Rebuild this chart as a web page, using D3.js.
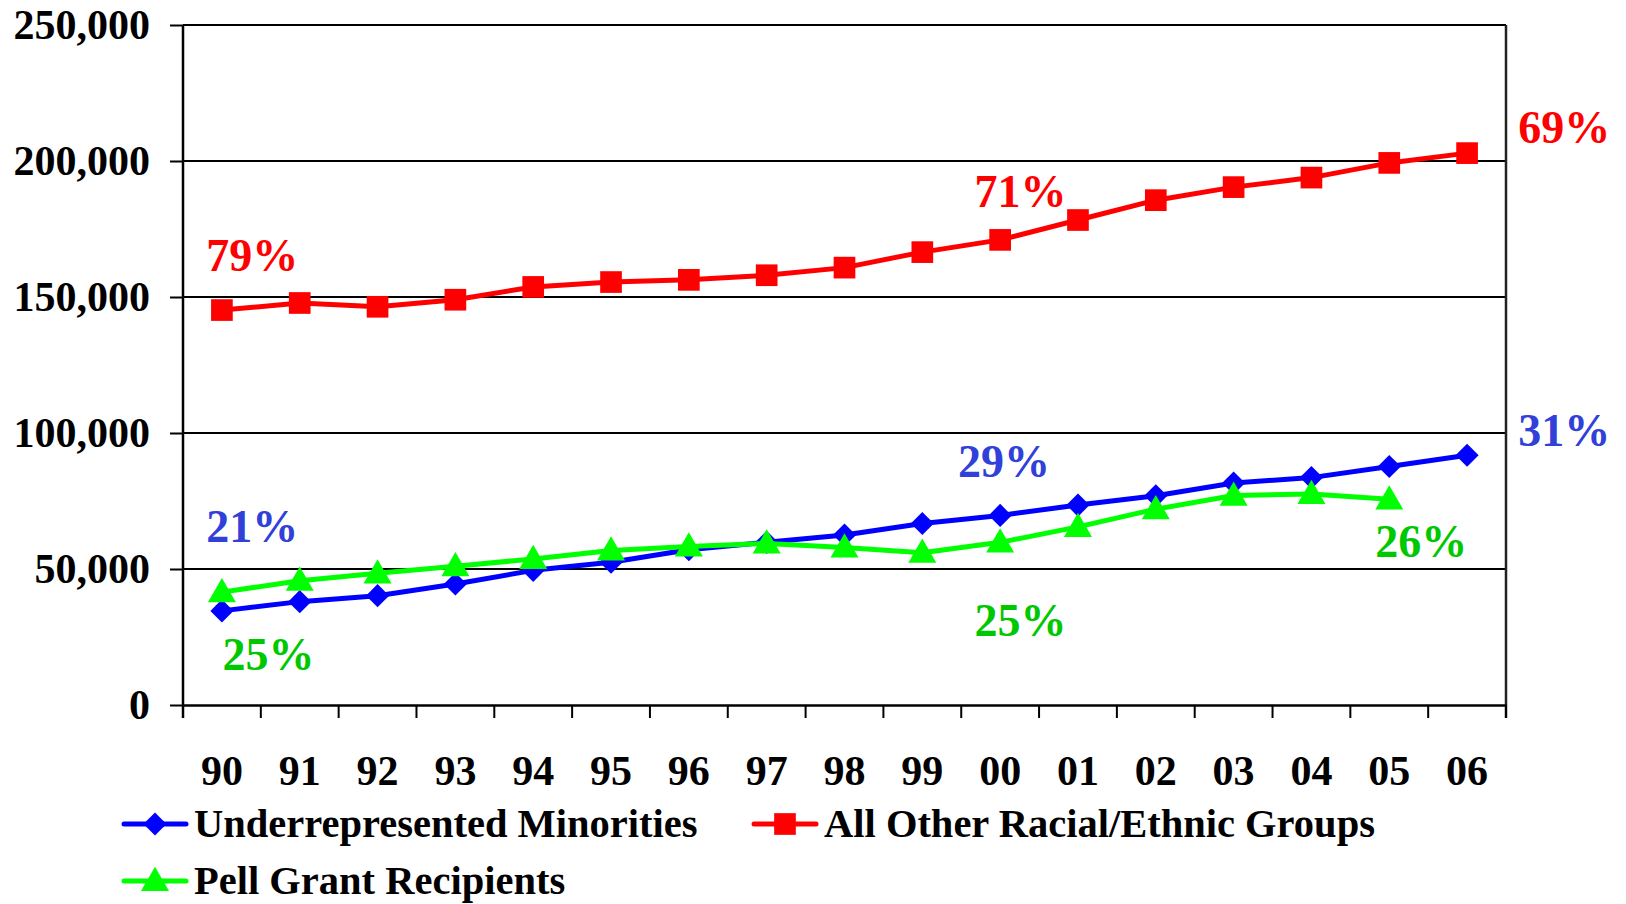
<!DOCTYPE html>
<html>
<head>
<meta charset="utf-8">
<script src="https://cdn.jsdelivr.net/npm/d3@7"></script>
<style>
  html, body { margin: 0; padding: 0; background: #fff; }
  svg { display: block; }
  text { font-family: "Liberation Serif", "Times New Roman", serif; font-weight: bold; }
</style>
</head>
<body>
<svg id="chart" width="1626" height="904"></svg>
<script>
// ---------- DATA ----------
const years = ["90","91","92","93","94","95","96","97","98","99","00","01","02","03","04","05","06"];
const underrepresented = [34.6, 38.0, 40.2, 44.5, 49.5, 52.5, 57.1, 59.8, 62.5, 66.7, 69.7, 73.5, 76.9, 81.6, 83.6, 87.7, 91.8].map(v => v * 1000);
const allOther = [145.2, 147.8, 146.4, 149.0, 153.7, 155.5, 156.3, 158.0, 160.8, 166.5, 171.0, 178.3, 185.6, 190.4, 193.9, 199.3, 202.9].map(v => v * 1000);
const pell = [41.5, 45.7, 48.4, 51.0, 53.7, 56.8, 58.3, 59.4, 57.9, 56.0, 59.8, 65.5, 72.0, 77.0, 77.6, 75.6].map(v => v * 1000);
const yTicks = [0, 50000, 100000, 150000, 200000, 250000];
const seriesNames = ["Underrepresented Minorities", "All Other Racial/Ethnic Groups", "Pell Grant Recipients"];
// share annotations: [text, series, position along years (index), value]
const shareLabels = [
  ["79%", 1, 0.39, 159600],
  ["71%", 1, 10.26, 183100],
  ["69%", 1, 17.25, 206600],
  ["21%", 0, 0.39, 59900],
  ["29%", 0, 10.05, 83800],
  ["31%", 0, 17.25, 95200],
  ["25%", 2, 0.60, 12900],
  ["25%", 2, 10.26, 25400],
  ["26%", 2, 15.41, 54400]
];

// ---------- LAYOUT ----------
const svg = d3.select("#chart");
const L = 183, R = 1506, T = 25, B = 705;
const lineColors = ["#0000FF", "#FF0000", "#00FF00"];
const labelColors = ["#3040D8", "#FF0000", "#00C800"];
const symbols = [d3.symbolDiamond2, d3.symbolSquare, d3.symbolTriangle];
const symSizes = [340, 470, 340];

const x = d3.scaleBand().domain(years).range([L, R]).padding(0);
const xi = d3.scaleLinear().domain([-0.5, years.length - 0.5]).range([L, R]);
const y = d3.scaleLinear().domain([0, 250000]).range([B, T]);
const cx = d => x(d) + x.bandwidth() / 2;

// gridlines
svg.append("g").selectAll("line").data(yTicks.filter(d => d > 0)).join("line")
  .attr("x1", L).attr("x2", R).attr("y1", d => y(d)).attr("y2", d => y(d))
  .attr("stroke", "#000").attr("stroke-width", 2);
// right border
svg.append("line").attr("x1", R).attr("x2", R).attr("y1", T).attr("y2", B + 13)
  .attr("stroke", "#222").attr("stroke-width", 2.5);

// y axis
const yAxis = svg.append("g").attr("transform", `translate(${L},0)`)
  .call(d3.axisLeft(y).tickValues(yTicks).tickFormat(d3.format(",")).tickSize(13).tickPadding(20));
yAxis.select(".domain").attr("stroke-width", 2.5).attr("d", `M0,${T}V${B + 13}`);
yAxis.selectAll(".tick line").attr("stroke-width", 2);
yAxis.selectAll("text").attr("font-size", 42).attr("fill", "#000")
  .style("font-family", '"Liberation Serif", serif').style("font-weight", "bold");

// x axis labels
const xAxis = svg.append("g").attr("transform", `translate(0,${B})`)
  .call(d3.axisBottom(x).tickSize(0).tickPadding(50));
xAxis.select(".domain").attr("stroke-width", 2.5);
xAxis.selectAll("text").attr("font-size", 42).attr("fill", "#000")
  .style("font-family", '"Liberation Serif", serif').style("font-weight", "bold");
// boundary ticks
svg.append("g").selectAll("line").data(d3.range(years.length + 1)).join("line")
  .attr("x1", i => xi(i - 0.5)).attr("x2", i => xi(i - 0.5))
  .attr("y1", B).attr("y2", B + 13)
  .attr("stroke", "#000").attr("stroke-width", 2);

// series
const allSeries = [underrepresented, allOther, pell];
const line = d3.line().x((d, i) => cx(years[i])).y(d => y(d));
allSeries.forEach((vals, s) => {
  svg.append("path").datum(vals).attr("d", line)
    .attr("fill", "none").attr("stroke", lineColors[s]).attr("stroke-width", 5)
    .attr("stroke-linejoin", "round");
  svg.append("g").selectAll("path").data(vals).join("path")
    .attr("d", d3.symbol(symbols[s], symSizes[s]))
    .attr("transform", (d, i) => `translate(${cx(years[i])},${y(d) + (s === 2 ? 2 : 0)})`)
    .attr("fill", lineColors[s]);
});

// share annotations
svg.append("g").selectAll("text").data(shareLabels).join("text")
  .attr("x", d => xi(d[2])).attr("y", d => y(d[3]))
  .attr("text-anchor", "middle").attr("font-size", 46)
  .attr("fill", d => labelColors[d[1]])
  .text(d => d[0]);

// legend
const legendPos = [[124, 824], [754, 824], [124, 881]];
seriesNames.forEach((name, s) => {
  const [lx, ly] = legendPos[s];
  const g = svg.append("g").attr("transform", `translate(${lx},${ly})`);
  g.append("line").attr("x1", 0).attr("x2", 62).attr("y1", 0).attr("y2", 0)
    .attr("stroke", lineColors[s]).attr("stroke-width", 5).attr("stroke-linecap", "round");
  g.append("path").attr("d", d3.symbol(symbols[s], symSizes[s])).attr("transform", `translate(31,${s === 2 ? 2 : 0})`)
    .attr("fill", lineColors[s]);
  g.append("text").attr("x", 70).attr("y", 13).attr("font-size", 40.5).attr("fill", "#000").text(name);
});
</script>
</body>
</html>
